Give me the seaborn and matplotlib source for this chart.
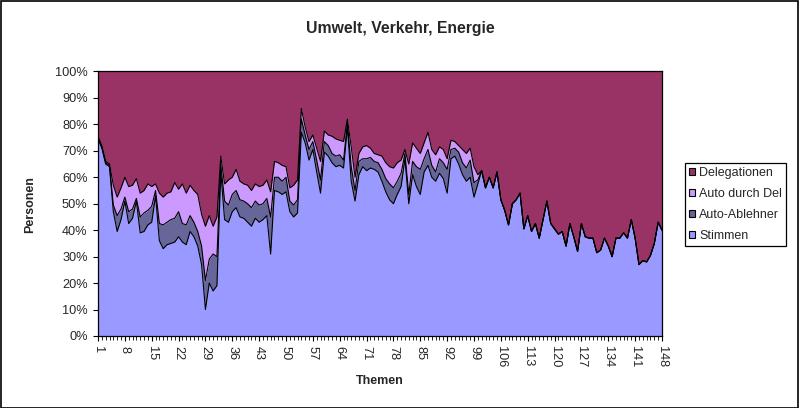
import numpy as np
import pandas as pd
import matplotlib
matplotlib.use("Agg")
import matplotlib.pyplot as plt
from matplotlib.patches import Patch, Rectangle
import seaborn as sns

# Themen 1..148, Anteile in Prozent
themen = list(range(1, 149))

stimmen = [
    74.5, 71, 65, 64, 47, 39.5, 44, 51, 42.5, 44.5,
    51, 39, 39.5, 42, 43, 53, 36, 33, 34.5, 35,
    35.5, 37.5, 35.5, 34.5, 39.5, 37.5, 34, 27, 10, 20,
    17, 19, 62, 44, 43, 47, 48.5, 45, 44.5, 43,
    41.5, 44.5, 43, 44, 45.5, 31, 55, 54.5, 53.5, 54.5,
    47, 45, 46.5, 77, 73, 66.5, 70.5, 62, 54, 69.5,
    68, 65.5, 64, 64.5, 63.5, 79, 58.5, 51, 61, 64,
    62.5, 63.5, 63, 62, 58.5, 54.5, 51.5, 50, 53.5, 56.5,
    67, 50, 61, 56.5, 53.5, 62, 64.5, 60, 58.5, 61.5,
    59.5, 54, 67, 68, 65, 61, 58.5, 60, 52.5, 57.5,
    62.5, 56, 60, 56, 62, 51.5, 47.5, 42, 50, 51.5,
    54, 40.5, 45.5, 39.5, 42.5, 37, 44, 51, 42.5, 40.5,
    38.5, 39.5, 34, 42.5, 37.5, 32, 42.5, 37.5, 37, 37,
    31.5, 32.5, 37, 34, 30, 37, 37, 39, 37, 44,
    37, 27, 28.5, 28, 30.5, 35, 43, 40,
]

auto_ablehner = [
    0.5, 0.5, 0.5, 0.5, 2.5, 6, 4, 1.5, 4.5, 3.5,
    1, 6, 7, 5.5, 6, 2, 6.5, 9, 8.5, 9,
    9, 9.5, 7, 7.5, 6, 5.5, 5.5, 7, 11, 9,
    14, 11, 3, 7, 6.5, 6.5, 6.5, 6.5, 6.5, 7,
    7, 6.5, 6.5, 6, 6.5, 14, 5, 5.5, 5, 5.5,
    4, 4.5, 5, 5, 3, 4, 3, 4.5, 5, 4,
    4, 3.5, 4, 4, 3, 1.5, 5.5, 4, 5, 3,
    4.5, 4, 3, 3.5, 4.5, 5, 6, 6, 5, 5,
    2, 3.5, 5, 7.5, 9.5, 5, 6, 4.5, 3.5, 5.5,
    6, 9, 3.5, 3, 4.5, 4.5, 5, 6.5, 5.5, 1.5,
    0, 0, 0, 0, 0, 0, 0, 0, 0, 0,
    0, 0, 0, 0, 0, 0, 0, 0, 0, 0,
    0, 0, 0, 0, 0, 0, 0, 0, 0, 0,
    0, 0, 0, 0, 0, 0, 0, 0, 0, 0,
    0, 0, 0, 0, 0, 0, 0, 0,
]

auto_durch_del = [
    0.5, 0.5, 0.5, 0.5, 7.5, 7, 8, 7.5, 9.5, 9,
    7.5, 9, 8.5, 10, 7.5, 2.5, 11.5, 10.5, 11, 10.5,
    13.5, 8.5, 15, 12, 11.5, 12, 14, 12, 20.5, 16.5,
    10.5, 15, 3, 6.5, 9.5, 6.5, 8, 7, 6.5, 7,
    6.5, 6.5, 7, 7, 7, 9.5, 6, 5.5, 6, 4,
    5, 7.5, 7.5, 4, 3, 3, 2.5, 4.5, 7, 4,
    4, 6.5, 6.5, 5.5, 7, 1.5, 7.5, 5, 3, 4.5,
    5, 3.5, 3, 3, 5, 6, 6.5, 7.5, 7, 5,
    1.5, 11.5, 7, 7, 6, 6, 6.5, 6, 6.5, 4.5,
    5, 4, 3.5, 2.5, 2.5, 5, 5.5, 4.5, 6, 2,
    0, 0, 0, 0, 0, 0, 0, 0, 0, 0,
    0, 0, 0, 0, 0, 0, 0, 0, 0, 0,
    0, 0, 0, 0, 0, 0, 0, 0, 0, 0,
    0, 0, 0, 0, 0, 0, 0, 0, 0, 0,
    0, 0, 0, 0, 0, 0, 0, 0,
]

delegationen = [
    24.5, 28, 34, 35, 43, 47.5, 44, 40, 43.5, 43,
    40.5, 46, 45, 42.5, 43.5, 42.5, 46, 47.5, 46, 45.5,
    42, 44.5, 42.5, 46, 43, 45, 46.5, 54, 58.5, 54.5,
    58.5, 55, 32, 42.5, 41, 40, 37, 41.5, 42.5, 43,
    45, 42.5, 43.5, 43, 41, 45.5, 34, 34.5, 35.5, 36,
    44, 43, 41, 14, 21, 26.5, 24, 29, 34, 22.5,
    24, 24.5, 25.5, 26, 26.5, 18, 28.5, 40, 31, 28.5,
    28, 29, 31, 31.5, 32, 34.5, 36, 36.5, 34.5, 33.5,
    29.5, 35, 27, 29, 31, 27, 23, 29.5, 31.5, 28.5,
    29.5, 33, 26, 26.5, 28, 29.5, 31, 29, 36, 39,
    37.5, 44, 40, 44, 38, 48.5, 52.5, 58, 50, 48.5,
    46, 59.5, 54.5, 60.5, 57.5, 63, 56, 49, 57.5, 59.5,
    61.5, 60.5, 66, 57.5, 62.5, 68, 57.5, 62.5, 63, 63,
    68.5, 67.5, 63, 66, 70, 63, 63, 61, 63, 56,
    63, 73, 71.5, 72, 69.5, 65, 57, 60,
]

serien = ["Stimmen", "Auto-Ablehner", "Auto durch Del", "Delegationen"]
farben = ["#9999FF", "#666699", "#CC99FF", "#993366"]

df = pd.DataFrame({
    "Stimmen": stimmen,
    "Auto-Ablehner": auto_ablehner,
    "Auto durch Del": auto_durch_del,
    "Delegationen": delegationen,
}, index=themen)

# 100%-gestapelt
pct = df.div(df.sum(axis=1), axis=0) * 100
kum = pct.cumsum(axis=1)

sns.set_style("white")
plt.rcParams["font.family"] = ["Liberation Sans", "DejaVu Sans"]

fig = plt.figure(figsize=(8, 4.08), dpi=100)
ax = fig.add_axes([0.1225, 0.1765, 0.705, 0.6483])

ax.stackplot(pct.index, [pct[s] for s in serien], colors=farben, linewidth=0)

# schwarze Kanten der Flaechen
for s in serien[:-1]:
    sns.lineplot(x=kum.index, y=kum[s], ax=ax, color="black", linewidth=0.8, legend=False)

ax.set_xlim(1, 148)
ax.set_ylim(0, 100)
ax.set_xlabel("")
ax.set_ylabel("")

ax.set_yticks(range(0, 101, 10))
ax.set_yticklabels([f"{v}%" for v in range(0, 101, 10)], fontsize=9.2)
ax.set_xticks(range(1, 149, 7))
ax.set_xticklabels([str(v) for v in range(1, 149, 7)], fontsize=9.2, rotation=270)
ax.set_xticks(range(1, 149), minor=True)
ax.tick_params(axis="both", which="major", direction="out", length=3.5, width=0.8,
               color="black", pad=4, left=True, bottom=True)
ax.tick_params(axis="x", which="minor", direction="out", length=3, width=0.6,
               color="black", bottom=True)

for sp in ax.spines.values():
    sp.set_color("black")
    sp.set_linewidth(0.9)

fig.text(0.5, 1 - 28 / 408, "Umwelt, Verkehr, Energie", ha="center", va="center",
         fontsize=11.3, fontweight="bold")
fig.text(30 / 800, 1 - 205 / 408, "Personen", ha="center", va="center",
         rotation=90, fontsize=9, fontweight="bold")
fig.text(380 / 800, 1 - 381 / 408, "Themen", ha="center", va="center",
         fontsize=9, fontweight="bold")

handles = [Patch(facecolor=c, edgecolor="black", linewidth=0.8, label=s)
           for s, c in zip(serien, farben)][::-1]
leg = fig.legend(handles=handles, loc="upper left", bbox_to_anchor=(685 / 800, 1 - 163 / 408),
                 fontsize=9, frameon=True, fancybox=False, framealpha=1,
                 edgecolor="black", handlelength=0.5, handleheight=0.5,
                 handletextpad=0.3, labelspacing=0.72, borderpad=0.32,
                 borderaxespad=0)
leg.get_frame().set_linewidth(0.9)

# Rahmen um das ganze Diagramm
fig.patches.append(Rectangle((0.001, 0.001), 0.997, 0.997, transform=fig.transFigure,
                             fill=False, edgecolor="black", linewidth=1.2))

fig.savefig("out.png", dpi=100)
